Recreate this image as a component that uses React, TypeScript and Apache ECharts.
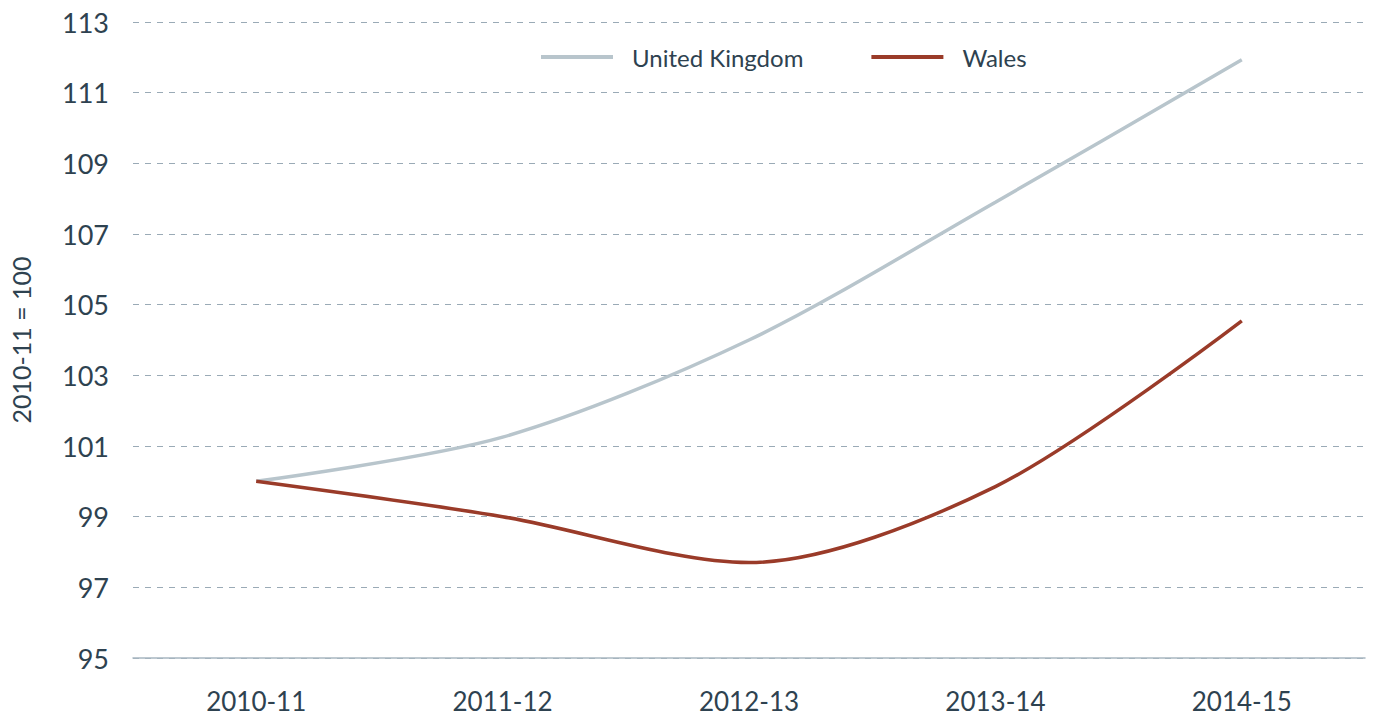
import React, { useEffect, useRef } from "react";
import * as echarts from "echarts";

const categories = ["2010-11", "2011-12", "2012-13", "2013-14", "2014-15"];
const ukValues = [100, 101.25, 104.0, 107.9, 111.93];
const walesValues = [100, 99.0, 97.7, 99.85, 104.54];
const yTicks = { min: 95, max: 113, interval: 2 };

const textColor = "#2e4250";
const font = "Lato, 'Noto Sans', sans-serif";

export default function App() {
  const ref = useRef<HTMLDivElement>(null);
  useEffect(() => {
    if (!ref.current) return;
    const chart = echarts.init(ref.current, null, { renderer: "svg" });
    chart.setOption({
      animation: false,
      grid: { left: 130, right: 13, top: 22, bottom: 61 },
      legend: {
        left: 536,
        top: 40,
        icon: "rect",
        itemWidth: 72,
        itemHeight: 4,
        itemGap: 68,
        textStyle: { color: textColor, fontSize: 24, fontFamily: font, padding: [0, 0, 0, 14] },
        data: ["United Kingdom", "Wales"],
      },
      xAxis: {
        type: "category",
        data: categories,
        boundaryGap: true,
        axisLine: { lineStyle: { color: "#a8b7c1", width: 1.5 } },
        axisTick: { show: false },
        axisLabel: { color: textColor, fontSize: 26, fontFamily: font, margin: 30 },
      },
      yAxis: {
        type: "value",
        min: yTicks.min,
        max: yTicks.max,
        interval: yTicks.interval,
        name: "2010-11 = 100",
        nameLocation: "middle",
        nameGap: 100,
        nameRotate: 90,
        nameTextStyle: { color: textColor, fontSize: 25, fontFamily: font },
        axisLine: { show: false },
        axisTick: { show: false },
        axisLabel: { color: textColor, fontSize: 27, fontFamily: font, margin: 24 },
        splitLine: { lineStyle: { color: "#9aaab6", type: [6, 6], width: 1.2 } },
      },
      series: [
        {
          name: "United Kingdom",
          type: "line",
          data: ukValues,
          smooth: 0.3,
          symbol: "none",
          lineStyle: { color: "#b8c5cc", width: 3.5 },
          itemStyle: { color: "#b8c5cc" },
        },
        {
          name: "Wales",
          type: "line",
          data: walesValues,
          smooth: 0.3,
          symbol: "none",
          lineStyle: { color: "#9a3b29", width: 3.5 },
          itemStyle: { color: "#9a3b29" },
        },
      ],
    });
    return () => chart.dispose();
  }, []);
  return <div ref={ref} style={{ width: 1378, height: 719, position: "absolute", left: 0, top: 0 }} />;
}
